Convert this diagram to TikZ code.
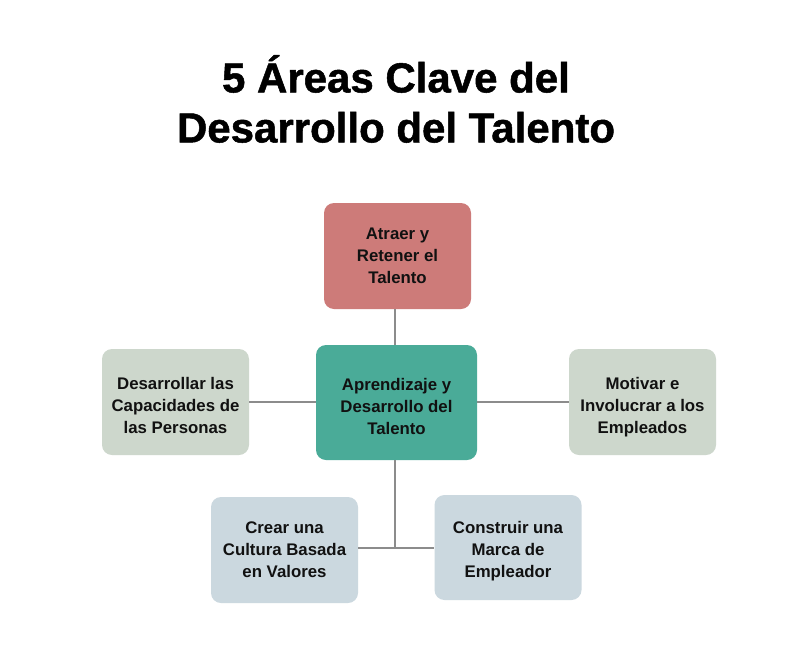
\documentclass[tikz,border=0pt]{standalone}
\usepackage{fontspec}
\setmainfont{Liberation Sans}
\newfontfamily\titlefont[FakeBold=1.2]{Liberation Sans Bold}
\definecolor{redbox}{HTML}{CD7B79}
\definecolor{tealbox}{HTML}{4AAB98}
\definecolor{greenbox}{HTML}{CDD7CC}
\definecolor{bluebox}{HTML}{CBD8DF}
\definecolor{linegray}{HTML}{8C8C8C}
\definecolor{txt}{HTML}{111111}
\begin{document}
\begin{tikzpicture}[x=1pt,y=-1pt,
  box/.style={rounded corners=10pt, draw=none, minimum width=147pt, minimum height=106pt, inner sep=0pt},
  boxtext/.style={align=center, text=txt, font=\fontsize{16.8}{22}\selectfont\bfseries, inner sep=0pt},
  conn/.style={draw=linegray, line width=2pt}]
\useasboundingbox (0,0) rectangle (790,659);
\fill[white] (0,0) rectangle (790,659);
\node[font=\titlefont\fontsize{42}{50}\selectfont, align=center, text=black] (title) at (396,99)
  {5 Áreas Clave del\\Desarrollo del Talento};
\node[box, fill=redbox, label={[boxtext]center:{Atraer y\\Retener el\\Talento}}] (top) at (397.5,256) {};
\node[box, fill=tealbox, minimum width=161pt, minimum height=115pt,
  label={[boxtext, yshift=-4pt]center:{Aprendizaje y\\Desarrollo del\\Talento}}] (center) at (396.5,402.5) {};
\node[box, fill=greenbox, label={[boxtext, yshift=-3pt]center:{Desarrollar las\\Capacidades de\\las Personas}}] (left) at (175.5,402) {};
\node[box, fill=greenbox, label={[boxtext, yshift=-5pt]center:{Motivar e\\Involucrar a los\\Empleados}}] (right) at (642.5,402) {};
\node[box, fill=bluebox, label={[boxtext]center:{Crear una\\Cultura Basada\\en Valores}}] (bl) at (284.5,550) {};
\node[box, fill=bluebox, minimum height=105pt, label={[boxtext, yshift=-4pt]center:{Construir una\\Marca de\\Empleador}}] (br) at (508,547.5) {};
\coordinate (junc) at (395,548);
\draw[conn] (top.south -| junc) -- (center.north -| junc);
\draw[conn] (left.east) -- (center.west |- left.east);
\draw[conn] (center.east |- right.west) -- (right.west);
\draw[conn] (center.south -| junc) -- (junc);
\draw[conn] (bl.east |- junc) -- (br.west |- junc);
\end{tikzpicture}
\end{document}
